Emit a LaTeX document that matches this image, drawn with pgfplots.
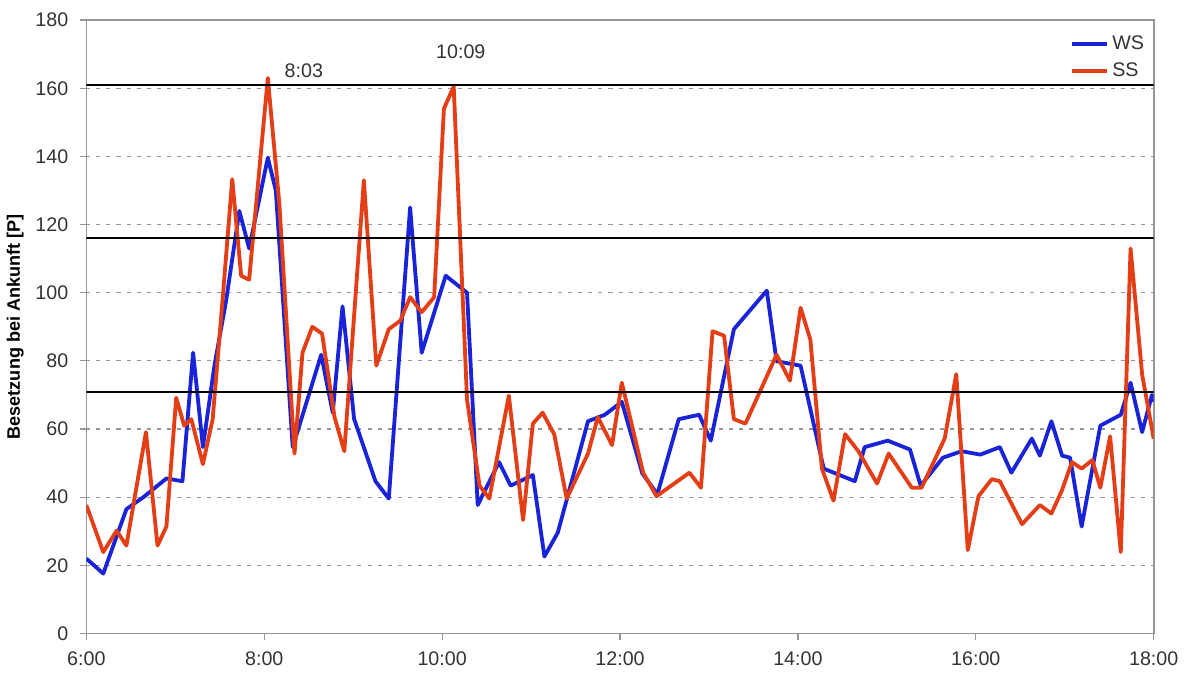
\documentclass[border=0pt]{standalone}
\usepackage{pgfplots}
\pgfplotsset{compat=1.18}
\usepackage{fontspec}
\setmainfont{Liberation Sans}
\definecolor{wsblue}{RGB}{25,35,215}
\definecolor{ssred}{RGB}{228,62,22}
\definecolor{framegray}{RGB}{150,150,150}
\begin{document}
\begin{tikzpicture}
\begin{axis}[
  scale only axis,
  width=531.5pt, height=305.5pt,
  xmin=6, xmax=18, ymin=0, ymax=180,
  xtick={6,8,10,12,14,16,18},
  xticklabels={6:00,8:00,10:00,12:00,14:00,16:00,18:00},
  ytick={0,20,...,180},
  ymajorgrids,
  grid style={framegray, line width=0.6pt, dash pattern=on 2pt off 3pt},
  axis line style={framegray, line width=0.8pt},
  tick style={framegray, line width=0.6pt},
  major tick length=3pt,
  tick align=outside,
  xtick pos=bottom, ytick pos=left,
  ticklabel style={font=\fontsize{9.8}{12}\selectfont, text=black!80},
  xticklabel style={yshift=-2.5pt},
  yticklabel style={xshift=-2.5pt},
  /pgf/number format/assume math mode=true,
  ylabel={\bfseries Besetzung bei Ankunft [P]},
  ylabel style={font=\fontsize{9}{11}\selectfont, yshift=-1pt},
  legend style={at={(0.997,0.985)}, anchor=north east, draw=none, fill=none,
    font=\fontsize{9.8}{12}\selectfont, row sep=1pt, inner sep=1pt,
    text=black!80},
  legend cell align=left,
  legend image code/.code={\draw[#1, line width=1.8pt] (0pt,0pt) -- (0.6cm,0pt);},
  clip=true,
]
\addplot[wsblue, line width=1.9pt, line join=round] coordinates {
(6.0,22) (6.19,17.6) (6.45,36.5) (6.64,40) (6.9,45.5) (7.08,44.7) (7.2,82.4)
(7.31,54.7) (7.44,78.6) (7.57,97.5) (7.72,124) (7.83,113) (8.04,139.6)
(8.13,130) (8.32,54.7) (8.64,81.8) (8.77,64.8) (8.88,96) (9.01,63)
(9.25,44.7) (9.40,39.6) (9.64,125) (9.77,82.4) (10.04,105) (10.28,100)
(10.40,37.7) (10.64,50.3) (10.77,43.4) (11.02,46.5) (11.15,22.6) (11.30,29.6)
(11.64,62.3) (11.83,64.2) (12.02,68) (12.25,47) (12.42,40.9) (12.66,62.9)
(12.89,64.2) (13.02,56.6) (13.28,89.3) (13.65,100.6) (13.76,79.9) (14.03,78.6)
(14.29,48.4) (14.64,44.7) (14.75,54.7) (15.01,56.6) (15.26,54) (15.38,43.4)
(15.63,51.6) (15.84,53.5) (16.05,52.5) (16.27,54.7) (16.40,47.2) (16.63,57.2)
(16.72,52.2) (16.85,62.3) (16.97,52.2) (17.06,51.6) (17.19,31.4) (17.40,61)
(17.63,64.2) (17.74,73.6) (17.87,59.1) (17.98,70) (18.0,68)
};
\addlegendentry{WS}
\addplot[ssred, line width=1.9pt, line join=round] coordinates {
(6.0,37.7) (6.19,23.9) (6.34,30.2) (6.45,25.8) (6.67,59.1) (6.80,25.8)
(6.90,31.4) (7.01,69.2) (7.10,61) (7.18,62.9) (7.31,49.7) (7.42,62.9)
(7.53,97.5) (7.64,133.3) (7.74,105) (7.83,103.8) (8.04,163) (8.17,126)
(8.34,52.8) (8.43,82.4) (8.54,90) (8.65,88) (8.79,63.5) (8.90,53.5)
(9.12,133) (9.26,78.6) (9.40,89.3) (9.53,91.8) (9.64,98.7) (9.77,94.3)
(9.91,98.7) (10.02,154) (10.13,160.5) (10.28,68.6) (10.42,43.4) (10.53,39.6)
(10.75,69.8) (10.91,33.3) (11.02,61.6) (11.13,64.8) (11.26,58.5) (11.40,39.6)
(11.64,52.8) (11.75,63.5) (11.91,55.3) (12.02,73.6) (12.26,47.2) (12.41,40.3)
(12.78,47.2) (12.91,42.8) (13.04,88.7) (13.17,87.4) (13.28,62.9) (13.41,61.6)
(13.76,81.8) (13.91,74.2) (14.03,95.6) (14.14,86.2) (14.27,48.4) (14.40,39)
(14.53,58.5) (14.68,53.5) (14.89,44) (15.02,52.8) (15.28,42.8) (15.39,42.8)
(15.65,57.2) (15.78,76.1) (15.91,24.5) (16.03,40.3) (16.18,45.3) (16.27,44.7)
(16.52,32.1) (16.72,37.7) (16.85,35.2) (16.97,42.1) (17.08,50.3) (17.19,48.4)
(17.31,50.9) (17.40,42.8) (17.51,57.9) (17.63,23.9) (17.74,113) (17.87,76)
(18.0,57.2)
};
\addlegendentry{SS}
\addplot[black, line width=1pt, forget plot] coordinates {(6,161) (18,161)};
\addplot[black, line width=1pt, forget plot] coordinates {(6,116) (18,116)};
\addplot[black, line width=1pt, forget plot] coordinates {(6,71) (18,71)};
\node[anchor=west, font=\fontsize{9.8}{12}\selectfont, text=black!80] at (axis cs:8.15,165) {8:03};
\node[anchor=center, font=\fontsize{9.8}{12}\selectfont, text=black!80] at (axis cs:10.21,170.6) {10:09};
\end{axis}
\path (current axis.north) ++(0,10pt);
\end{tikzpicture}
\end{document}
